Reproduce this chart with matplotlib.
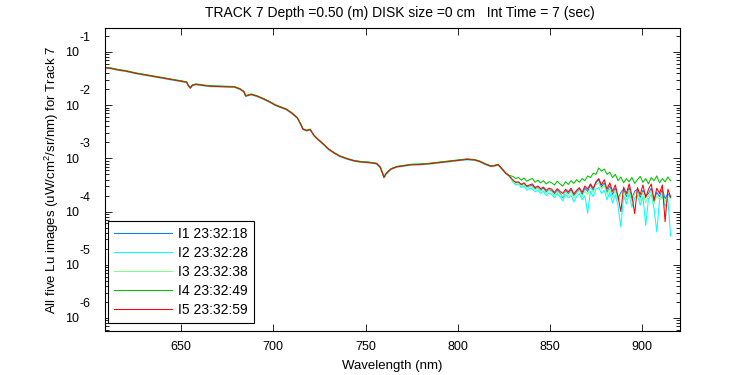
import numpy as np
import matplotlib
matplotlib.use('Agg')
import matplotlib.pyplot as plt
import matplotlib.transforms as mtransforms
from matplotlib.ticker import LogLocator, FixedLocator, NullLocator, FixedFormatter

plt.rcParams['font.family'] = ['Liberation Sans', 'DejaVu Sans']
plt.rcParams['mathtext.fontset'] = 'custom'
plt.rcParams['mathtext.rm'] = 'Liberation Sans'

# smooth part of the spectrum (log10 of Lu), shared by the five images
wl_a = [609, 612, 616, 620, 625, 630, 635, 640, 645, 650, 653, 654, 655, 656, 658,
        662, 666, 670, 675, 679, 682, 684, 685, 686, 688, 691, 695, 698, 701, 704,
        707, 710, 713, 715, 716, 718, 720, 722, 724, 727, 730, 733, 736, 740, 744,
        748, 752, 756, 758, 759, 760, 761, 762, 764, 767, 771, 775, 780, 785, 790,
        795, 800, 805, 809, 812, 815, 818, 820, 822, 824, 826, 828]
log_a = [-1.30, -1.31, -1.34, -1.36, -1.40, -1.43, -1.46, -1.49, -1.52, -1.55, -1.57, -1.64, -1.68, -1.63, -1.61,
         -1.63, -1.645, -1.65, -1.655, -1.66, -1.70, -1.75, -1.83, -1.82, -1.80, -1.83, -1.89, -1.94, -2.00, -2.04,
         -2.08, -2.15, -2.24, -2.37, -2.45, -2.48, -2.46, -2.57, -2.64, -2.73, -2.83, -2.90, -2.96, -3.01, -3.05,
         -3.07, -3.08, -3.10, -3.17, -3.26, -3.36, -3.30, -3.26, -3.20, -3.16, -3.14, -3.12, -3.115, -3.10, -3.08,
         -3.06, -3.04, -3.02, -3.03, -3.06, -3.11, -3.15, -3.14, -3.12, -3.20, -3.28, -3.33]
# small per-image shift in the smooth part
offset_a = [0.004, -0.008, 0.0, 0.01, 0.0]

# noisy tail, 830 - 915.5 nm every 1.5 nm, per image (log10)
wl_b = list(np.arange(830.0, 916.0, 1.5))
tail_i1 = [-3.42, -3.46, -3.45, -3.51, -3.48, -3.54, -3.52, -3.51, -3.57, -3.55,
           -3.60, -3.56, -3.63, -3.59, -3.61, -3.67, -3.60, -3.65, -3.74, -3.61,
           -3.66, -3.59, -3.70, -3.63, -3.58, -3.68, -3.56, -3.62, -3.50, -3.60,
           -3.46, -3.40, -3.54, -3.46, -3.64, -3.52, -3.68, -3.56, -3.76, -3.64,
           -3.58, -3.72, -3.55, -3.76, -3.62, -3.58, -3.74, -3.60, -3.70, -3.66,
           -3.56, -3.78, -3.64, -3.72, -3.58, -3.76, -3.66, -3.74]
tail_i2 = [-3.45, -3.50, -3.48, -3.55, -3.52, -3.60, -3.56, -3.58, -3.63, -3.60,
           -3.66, -3.62, -3.70, -3.65, -3.68, -3.74, -3.66, -3.72, -3.80, -3.68,
           -3.74, -3.70, -3.82, -3.72, -3.66, -3.78, -3.70, -4.03, -3.62, -3.72,
           -3.58, -3.55, -3.66, -3.60, -3.78, -3.64, -3.84, -3.68, -3.90, -4.29,
           -3.70, -3.86, -3.66, -3.92, -3.74, -3.70, -3.88, -3.72, -4.26, -3.76,
           -3.68, -3.94, -4.38, -3.78, -3.70, -3.90, -3.76, -4.46]
tail_i3 = [-3.43, -3.47, -3.46, -3.52, -3.49, -3.56, -3.53, -3.54, -3.59, -3.56,
           -3.62, -3.58, -3.66, -3.60, -3.63, -3.70, -3.62, -3.67, -3.72, -3.63,
           -3.70, -3.62, -3.74, -3.66, -3.60, -3.72, -3.62, -3.68, -3.55, -3.64,
           -3.50, -3.46, -3.58, -3.50, -3.68, -3.56, -3.74, -3.60, -3.80, -3.68,
           -3.62, -3.78, -3.60, -3.82, -3.66, -3.62, -3.80, -3.64, -3.84, -3.70,
           -3.62, -3.86, -3.70, -3.78, -3.64, -3.82, -3.72, -3.76]
tail_i4 = [-3.34, -3.38, -3.36, -3.41, -3.37, -3.43, -3.40, -3.38, -3.45, -3.41,
           -3.46, -3.42, -3.48, -3.44, -3.46, -3.50, -3.43, -3.48, -3.52, -3.44,
           -3.49, -3.42, -3.47, -3.40, -3.45, -3.38, -3.42, -3.33, -3.36, -3.28,
           -3.30, -3.18, -3.24, -3.20, -3.30, -3.26, -3.36, -3.30, -3.42, -3.35,
           -3.46, -3.38, -3.44, -3.36, -3.47, -3.40, -3.34, -3.45, -3.38, -3.48,
           -3.36, -3.42, -3.33, -3.46, -3.38, -3.44, -3.35, -3.42]
tail_i5 = [-3.41, -3.45, -3.44, -3.49, -3.46, -3.52, -3.50, -3.48, -3.55, -3.52,
           -3.57, -3.54, -3.60, -3.56, -3.58, -3.64, -3.57, -3.62, -3.66, -3.58,
           -3.63, -3.56, -3.67, -3.60, -3.55, -3.64, -3.52, -3.58, -3.48, -3.56,
           -3.44, -3.38, -3.50, -3.40, -3.58, -3.46, -3.62, -3.50, -3.72, -4.00,
           -3.54, -3.66, -3.48, -3.70, -4.04, -3.55, -3.68, -3.50, -3.74, -3.58,
           -3.48, -3.80, -3.56, -3.66, -3.50, -4.19, -3.58, -3.72]

labels = ['I1 23:32:18', 'I2 23:32:28', 'I3 23:32:38', 'I4 23:32:49', 'I5 23:32:59']
colors = ['#0080ff', '#00ffff', '#80ff80', '#00c000', '#ff0000']
tails = [tail_i1, tail_i2, tail_i3, tail_i4, tail_i5]
ytick_exp = [-6, -5, -4, -3, -2, -1]

fig = plt.figure(figsize=(7.5, 3.75), dpi=100)
ax = fig.add_axes([0.14, 0.1173, 0.7667, 0.808])

wl = np.array(wl_a + wl_b)
for lab, col, off, tail in zip(labels, colors, offset_a, tails):
    logv = np.concatenate([np.array(log_a) + off, np.array(tail)])
    ax.plot(wl, 10 ** logv, color=col, lw=0.75, label=lab)

ax.set_yscale('log')
ax.set_xlim(608.7, 920.6)
ax.set_ylim(10 ** -6.245, 10 ** -0.55)
ax.xaxis.set_major_locator(FixedLocator([650, 700, 750, 800, 850, 900]))
ax.xaxis.set_minor_locator(NullLocator())
yt = [10.0 ** e for e in ytick_exp]
ax.yaxis.set_major_locator(FixedLocator(yt))
ax.yaxis.set_major_formatter(FixedFormatter(['10'] * len(yt)))
ax.yaxis.set_minor_locator(LogLocator(base=10, subs=np.arange(2, 10), numticks=10))
ax.tick_params(which='both', direction='in', top=True, right=True, labelsize=9)
ax.tick_params(which='major', length=5, width=0.6)
ax.tick_params(which='minor', length=3, width=0.6)
ax.tick_params(axis='x', pad=7)
ax.tick_params(axis='y', pad=18.5)
for s in ax.spines.values():
    s.set_linewidth(0.8)

# MATLAB style exponents next to the "10"
trans = mtransforms.blended_transform_factory(ax.transAxes, ax.transData)
trans = mtransforms.offset_copy(trans, fig=fig, x=0, y=14, units='dots')
for e, v in zip(ytick_exp, yt):
    ax.text(-0.0435, v, str(e), transform=trans, fontsize=9, ha='left', va='center')

ax.set_title('TRACK 7 Depth =0.50 (m) DISK size =0 cm   Int Time = 7 (sec)',
             fontsize=10, pad=8, x=0.513)
ax.set_xlabel('Wavelength (nm)', fontsize=9.5, labelpad=5)
ax.set_ylabel('All five Lu images (uW/cm$^2$/sr/nm) for Track 7', fontsize=9.5)
ax.yaxis.set_label_coords(-0.077, 0.5)

leg = ax.legend(loc='lower left', bbox_to_anchor=(0.005, 0.026), borderaxespad=0,
                fontsize=10, handlelength=4.2, labelspacing=0.36, fancybox=False,
                framealpha=1, edgecolor='black', borderpad=0.45, handletextpad=0.4)
leg.get_frame().set_linewidth(0.8)

fig.savefig('out.png', dpi=100)
